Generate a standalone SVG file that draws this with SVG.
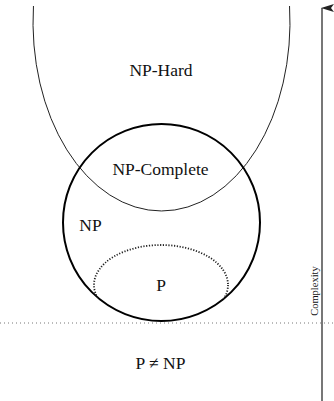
<svg xmlns="http://www.w3.org/2000/svg" width="334" height="401" viewBox="0 0 334 401">
<style>
text{font-family:"Liberation Serif","Times New Roman",serif;fill:#111;}
.lbl{font-size:17.5px;text-anchor:middle;}
.small{font-size:10.5px;text-anchor:middle;}
</style>
<defs>
<marker id="ah" markerWidth="8" markerHeight="14" refX="4" refY="1" orient="auto-start-reverse" markerUnits="userSpaceOnUse" viewBox="0 0 8 14">
<path d="M4 0 L8 13 L4 10 L0 13 Z" fill="#222"/>
</marker>
<clipPath id="npclip"><circle cx="161.5" cy="222.5" r="98.5"/></clipPath>
</defs>
<rect width="334" height="401" fill="#fff"/>
<g id="connectors">
<line x1="0" y1="323" x2="334" y2="323" stroke="#777" stroke-width="1" stroke-dasharray="1 3"/>
<line x1="322" y1="401" x2="322" y2="8" stroke="#555" stroke-width="1.6" marker-end="url(#ah)"/>
</g>
<g id="np-hard">
<path d="M33.46 6 A128.5 189 0 1 0 289.54 6" fill="none" stroke="#222" stroke-width="1"/>
<text class="lbl" x="161" y="76">NP-Hard</text>
</g>
<g id="np">
<circle cx="161.5" cy="222.5" r="98.5" fill="none" stroke="#000" stroke-width="2"/>
<text class="lbl" x="90.5" y="231">NP</text>
</g>
<g id="np-complete">
<text class="lbl" x="160.5" y="175">NP-Complete</text>
</g>
<g id="p">
<ellipse cx="161" cy="285" rx="67" ry="40" fill="none" stroke="#222" stroke-width="1.8" stroke-dasharray="1.2 1.6" clip-path="url(#npclip)"/>
<text class="lbl" x="161" y="291">P</text>
</g>
<g id="p-neq-np">
<text class="lbl" x="160.5" y="369">P ≠ NP</text>
</g>
<g id="complexity">
<text class="small" transform="translate(318 291) rotate(-90)" x="0" y="0">Complexity</text>
</g>
</svg>
